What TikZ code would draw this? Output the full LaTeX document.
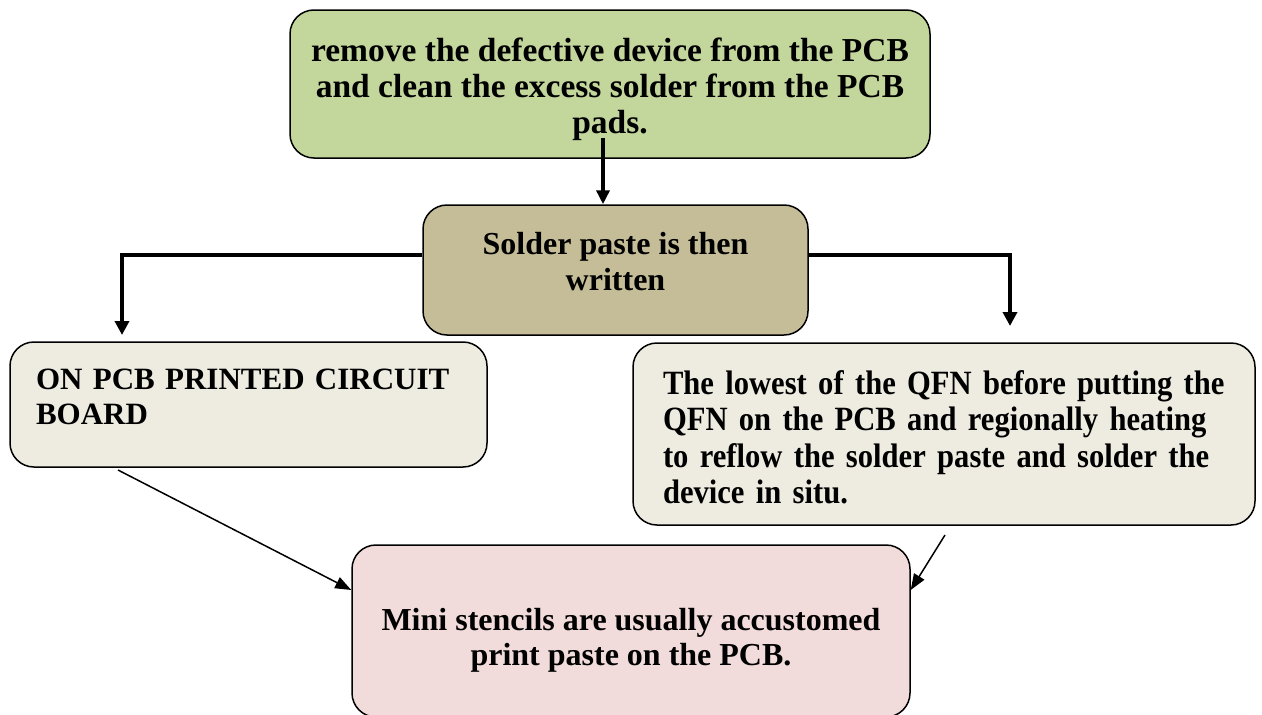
\documentclass[tikz,border=0pt]{standalone}
\usepackage{fontspec}
\setmainfont{Liberation Serif}
\newfontfamily\narrowserif[FakeStretch=0.9]{Liberation Serif}
\usepackage{xcolor}
\usetikzlibrary{positioning,arrows.meta}

\definecolor{boxgreen}{HTML}{C3D69B}
\definecolor{boxtan}{HTML}{C4BD97}
\definecolor{boxcream}{HTML}{EEECE1}
\definecolor{boxpink}{HTML}{F2DCDB}

\begin{document}
\begin{tikzpicture}[x=1pt,y=-1pt,
  box/.style={draw, line width=1.5pt, rounded corners=24pt, inner sep=0pt},
  flow/.style={line width=4.5pt, -{Triangle[length=14pt,width=14pt]}},
  thin/.style={line width=1.5pt, -{Triangle[length=16pt,width=12pt]}}]
  \useasboundingbox (0,0) rectangle (1262,715);

  \node[box, fill=boxgreen, minimum width=640pt, minimum height=148pt, align=center,
    font=\bfseries\fontsize{33.5}{36}\selectfont] (remove) at (610,84)
    {\mbox{}\\[-1pt]remove the defective device from the PCB\\and clean the excess solder from the PCB\\pads.};
  \node[box, fill=boxtan, minimum width=385pt, minimum height=130pt, align=center,
    font=\bfseries\fontsize{32}{36}\selectfont] (paste) at (615.5,270)
    {Solder paste is then\\written\\[-19pt]};
  \node[box, fill=boxcream, minimum width=477pt, minimum height=125pt,
    text width=425pt, align=left, font=\bfseries\fontsize{31}{35}\selectfont]
    (onpcb) at (248.5,404.5) {ON PCB PRINTED CIRCUIT\\BOARD\\[-19pt]\mbox{}};
  \node[box, fill=boxcream, minimum width=622pt, minimum height=182pt,
    text width=562pt, align=left, font=\narrowserif\bfseries\fontsize{34}{36.5}\selectfont]
    (qfn) at (944,434)
    {\mbox{}\\[-6pt]The lowest of the QFN before putting the\\QFN on the PCB and regionally heating\\to reflow the solder paste and solder the\\device in situ.};
  \node[box, fill=boxpink, minimum width=558pt, minimum height=172pt, align=center,
    font=\bfseries\fontsize{32}{35}\selectfont] (stencil) at (631,631)
    {\mbox{}\\[6pt]Mini stencils are usually accustomed\\print paste on the PCB.};

  \coordinate (top) at (603,138);
  \coordinate (lbend) at (122,255);
  \coordinate (rbend) at (1010,255);
  \coordinate (lend) at (122,335);
  \coordinate (rend) at (1010,326);
  \coordinate (ltail) at (118,470);
  \coordinate (rtail) at (945,535);

  \draw[line width=3.5pt, -{Triangle[length=14pt,width=13pt]}] (top) -- (top |- paste.north);
  \draw[flow] (paste.west |- lbend) -- (lbend) -- (lend);
  \draw[flow] (paste.east |- rbend) -- (rbend) -- (rend);
  \draw[thin] (ltail) -- (stencil.west |- 0,590);
  \draw[thin] (rtail) -- (stencil.east |- 0,590);
\end{tikzpicture}
\end{document}
